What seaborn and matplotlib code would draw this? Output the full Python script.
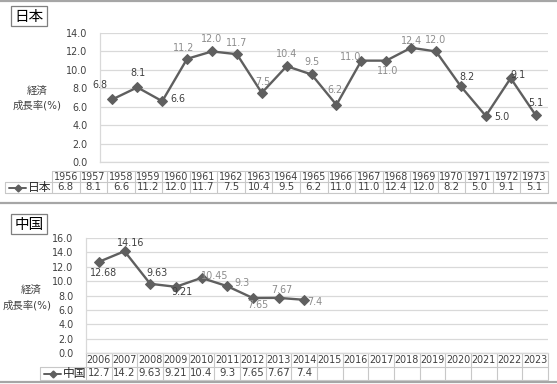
import matplotlib
matplotlib.use("Agg")
import matplotlib.pyplot as plt
import seaborn as sns
import pandas as pd
import numpy as np

# data
jp_years = [str(y) for y in range(1956, 1974)]
jp_values = [6.8, 8.1, 6.6, 11.2, 12.0, 11.7, 7.5, 10.4, 9.5, 6.2,
             11.0, 11.0, 12.4, 12.0, 8.2, 5.0, 9.1, 5.1]
jp_table = ["6.8", "8.1", "6.6", "11.2", "12.0", "11.7", "7.5", "10.4", "9.5",
            "6.2", "11.0", "11.0", "12.4", "12.0", "8.2", "5.0", "9.1", "5.1"]

cn_years = [str(y) for y in range(2006, 2024)]
cn_values = [12.68, 14.16, 9.63, 9.21, 10.45, 9.3, 7.65, 7.67, 7.4]
cn_labels = ["12.68", "14.16", "9.63", "9.21", "10.45", "9.3", "7.65", "7.67", "7.4"]
cn_table = ["12.7", "14.2", "9.63", "9.21", "10.4", "9.3", "7.65", "7.67", "7.4"]

# label offsets (pixels) and colours
jp_off = [(-13, 14), (1, 14), (16, 2), (-4, 11), (0, 12), (0, 11), (1, 11), (0, 12),
          (0, 12), (-2, 15), (-11, 4), (1, -10), (0, 7), (0, 11), (6, 9), (16, -1),
          (7, 3), (0, 12)]
jp_dark = [0, 1, 2, 14, 15, 16, 17]
cn_off = [(5, -11), (6, 8), (7, 11), (6, -5), (13, 2), (15, 3), (5, -7), (3, 8), (11, -2)]
cn_dark = [0, 1, 2, 3]

sns.set_theme(style="white")
plt.rcParams["font.family"] = ["DejaVu Sans", "Noto Sans CJK JP"]

W, H = 557, 384
fig = plt.figure(figsize=(W / 100, H / 100), dpi=100)
fig.patch.set_facecolor("white")

# overlay in pixel coordinates for frames, tables, titles
ov = fig.add_axes([0, 0, 1, 1], zorder=-1)
ov.set_xlim(0, W)
ov.set_ylim(H, 0)
ov.axis("off")

LINE = "#5f5f5f"
DARK = "#404040"
GRAY = "#8c8c8c"
GRID = "#d9d9d9"
TBL = "#c8c8c8"
FS = 6.9


def make_axes(left, top, right, bottom):
    return fig.add_axes([left / W, 1 - bottom / H, (right - left) / W, (bottom - top) / H])


def draw_chart(ax, years, values, ymax, labels, offs, dark):
    ax.set_facecolor("none")
    df = pd.DataFrame({"pos": np.arange(len(values)), "value": values})
    sns.lineplot(data=df, x="pos", y="value", ax=ax, color=LINE, linewidth=1.7,
                 marker="D", markersize=5, markeredgecolor=LINE, markerfacecolor=LINE)
    ax.set_xlim(-0.5, len(years) - 0.5)
    ax.set_ylim(0, ymax)
    ax.set_yticks(np.arange(0, ymax + 0.1, 2))
    ax.set_yticklabels([f"{v:.1f}" for v in np.arange(0, ymax + 0.1, 2)], fontsize=FS, color=DARK)
    ax.tick_params(axis="y", length=0, pad=9)
    ax.set_xticks([])
    ax.set_xlabel("")
    ax.set_ylabel("")
    ax.grid(axis="y", color=GRID, linewidth=0.9)
    for s in ["top", "right"]:
        ax.spines[s].set_visible(False)
    for s in ["left", "bottom"]:
        ax.spines[s].set_color(GRID)
        ax.spines[s].set_linewidth(0.9)
    for i, (v, lab) in enumerate(zip(values, labels)):
        ax.annotate(lab, (i, v), xytext=offs[i], textcoords="offset pixels",
                    ha="center", va="center", fontsize=FS,
                    color=DARK if i in dark else GRAY)


def draw_table(x0, x1, y0, y1, y2, years, cells, key_x0, name):
    n = len(years)
    w = (x1 - x0) / n
    ov.plot([x0, x1], [y0, y0], color=TBL, lw=0.8)
    ov.plot([key_x0, x1], [y1, y1], color=TBL, lw=0.8)
    ov.plot([key_x0, x1], [y2, y2], color=TBL, lw=0.8)
    ov.plot([key_x0, key_x0], [y1, y2], color=TBL, lw=0.8)
    for k in range(n + 1):
        ov.plot([x0 + k * w, x0 + k * w], [y0, y2], color=TBL, lw=0.8)
    for k, yr in enumerate(years):
        ov.text(x0 + (k + 0.5) * w, (y0 + y1) / 2, yr, ha="center", va="center",
                fontsize=FS, color=DARK)
    for k, c in enumerate(cells):
        ov.text(x0 + (k + 0.5) * w, (y1 + y2) / 2, c, ha="center", va="center",
                fontsize=FS + 0.4, color=DARK)
    ym = (y1 + y2) / 2
    ov.plot([key_x0 + 4, key_x0 + 21], [ym, ym], color=LINE, lw=1.4)
    ov.plot([key_x0 + 12.5], [ym], marker="D", color=LINE, markersize=3.5)
    ov.text(key_x0 + 23, ym, name, ha="left", va="center", fontsize=8.5, color="#262626")


# panel frames
for y in [1, 203, 382]:
    ov.plot([0, W], [y, y], color="#a6a6a6", lw=1.6)

# Japan
ax1 = make_axes(100, 33, 548, 162)
draw_chart(ax1, jp_years, jp_values, 14, jp_table, jp_off, jp_dark)
draw_table(52, 548, 171, 182, 193, jp_years, jp_table, 5, "日本")
ov.text(29, 16, "日本", ha="center", va="center", fontsize=10.5, color="#000000",
        bbox=dict(boxstyle="square,pad=0.2", fc="white", ec="#7f7f7f", lw=0.9))
ov.text(37, 91, "経済", ha="center", va="center", fontsize=7.5, color=DARK)
ov.text(37, 105, "成長率(%)", ha="center", va="center", fontsize=7.5, color=DARK)

# China
ax2 = make_axes(86, 238, 548, 353)
draw_chart(ax2, cn_years, cn_values, 16, cn_labels, cn_off, cn_dark)
draw_table(86, 548, 353, 367, 380, cn_years, cn_table, 40, "中国")
ov.text(29, 224, "中国", ha="center", va="center", fontsize=10.5, color="#000000",
        bbox=dict(boxstyle="square,pad=0.2", fc="white", ec="#7f7f7f", lw=0.9))
ov.text(31, 290, "経済", ha="center", va="center", fontsize=7.5, color=DARK)
ov.text(27, 305, "成長率(%)", ha="center", va="center", fontsize=7.5, color=DARK)

fig.savefig("out.png", dpi=100)
